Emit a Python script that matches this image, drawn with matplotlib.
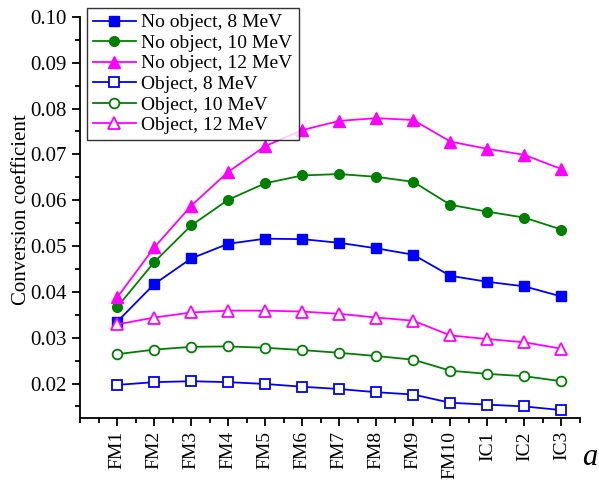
import numpy as np
import matplotlib
matplotlib.use("Agg")
import matplotlib.pyplot as plt
from matplotlib.ticker import MultipleLocator

plt.rcParams['font.family'] = ['Liberation Serif', 'DejaVu Serif']

labels = ['FM1', 'FM2', 'FM3', 'FM4', 'FM5', 'FM6', 'FM7', 'FM8', 'FM9', 'FM10', 'IC1', 'IC2', 'IC3']

no_obj_8 = [0.0335, 0.0417, 0.0473, 0.0505, 0.0516, 0.0515, 0.0507, 0.0495, 0.0481, 0.0435, 0.0422, 0.0412, 0.0390]
no_obj_10 = [0.0367, 0.0465, 0.0545, 0.0601, 0.0637, 0.0654, 0.0657, 0.0651, 0.0640, 0.0590, 0.0575, 0.0562, 0.0536]
no_obj_12 = [0.0388, 0.0497, 0.0588, 0.0662, 0.0718, 0.0753, 0.0773, 0.0779, 0.0775, 0.0728, 0.0712, 0.0699, 0.0668]
obj_8 = [0.0197, 0.0203, 0.0205, 0.0203, 0.0199, 0.0193, 0.0188, 0.0181, 0.0176, 0.0158, 0.0154, 0.0150, 0.0142]
obj_10 = [0.0264, 0.0274, 0.0280, 0.0281, 0.0278, 0.0273, 0.0267, 0.0260, 0.0252, 0.0228, 0.0221, 0.0216, 0.0205]
obj_12 = [0.0329, 0.0344, 0.0355, 0.0359, 0.0359, 0.0357, 0.0352, 0.0344, 0.0337, 0.0305, 0.0297, 0.0290, 0.0276]

blue, green, magenta = '#0000FF', '#008000', '#FF00FF'

fig = plt.figure(figsize=(5.99, 4.82), dpi=100)
ax = fig.add_axes([0.134, 0.133, 0.834, 0.832])
x = np.arange(len(labels))

ax.plot(x, no_obj_8, '-s', color=blue, ms=6.5, lw=1.3, label='No object, 8 MeV')
ax.plot(x, no_obj_10, '-o', color=green, ms=7, lw=1.3, label='No object, 10 MeV')
ax.plot(x, no_obj_12, '-^', color=magenta, ms=8, lw=1.3, label='No object, 12 MeV')
ax.plot(x, obj_8, '-s', color=blue, mfc='white', mew=1.3, ms=6.5, lw=1.3, label='Object, 8 MeV')
ax.plot(x, obj_10, '-o', color=green, mfc='white', mew=1.3, ms=7, lw=1.3, label='Object, 10 MeV')
ax.plot(x, obj_12, '-^', color=magenta, mfc='white', mew=1.3, ms=8, lw=1.3, label='Object, 12 MeV')

ax.set_xlim(-1, 12.5)
ax.set_ylim(0.0125, 0.1)
ax.set_xticks(x)
ax.set_xticklabels(labels, rotation=90, fontsize=14)
ax.xaxis.set_minor_locator(MultipleLocator(0.5))
ax.yaxis.set_major_locator(MultipleLocator(0.01))
ax.yaxis.set_minor_locator(MultipleLocator(0.005))
ax.yaxis.set_major_formatter(matplotlib.ticker.FormatStrFormatter('%.2f'))
ax.tick_params(axis='y', labelsize=15)
ax.tick_params(which='major', direction='out', length=6, width=1.3)
ax.tick_params(which='minor', direction='out', length=3.5, width=1.3)
for s in ['top', 'right']:
    ax.spines[s].set_visible(False)
for s in ['left', 'bottom']:
    ax.spines[s].set_linewidth(1.3)

ax.set_ylabel('Conversion coefficient', fontsize=15)
ax.yaxis.set_label_coords(-0.098, 0.52)

leg = fig.legend(loc='upper left', bbox_to_anchor=(87 / 599, 1 - 8 / 482), fontsize=14,
                 frameon=True, fancybox=False, edgecolor='black', borderpad=0.3,
                 labelspacing=0.15, handlelength=2.2, handletextpad=0.3, borderaxespad=0)
leg.get_frame().set_linewidth(1.0)

fig.text(0.997, 0.02, 'a', fontsize=22, style='italic', ha='right', va='bottom')

fig.savefig('out.png', dpi=100)
